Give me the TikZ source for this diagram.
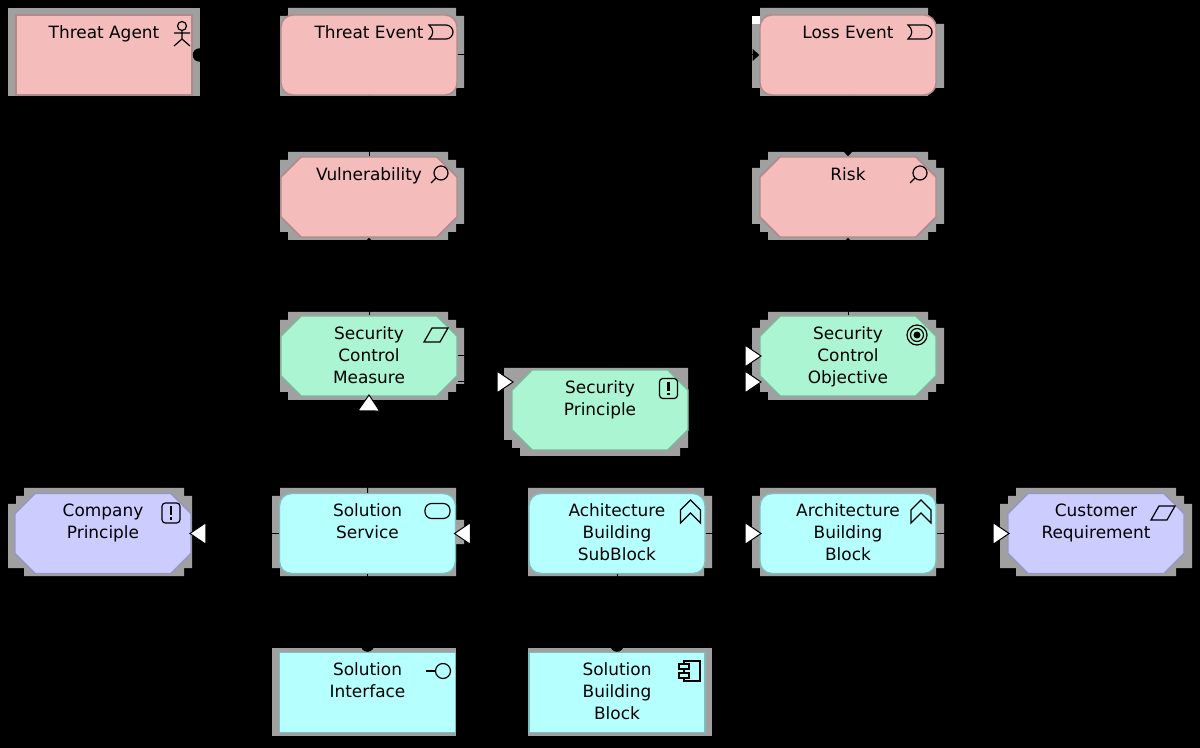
\documentclass[tikz,border=0pt]{standalone}
\usepackage{fontspec}
\setmainfont{DejaVu Sans}
\usepackage{xcolor}
\usetikzlibrary{arrows.meta, shapes.misc}
\definecolor{threatfill}{HTML}{F5BCBC}
\definecolor{threatline}{HTML}{B08A8A}
\definecolor{controlfill}{HTML}{ABF5D2}
\definecolor{controlline}{HTML}{7FB59E}
\definecolor{solutionfill}{HTML}{B5FFFF}
\definecolor{solutionline}{HTML}{82BDBD}
\definecolor{motivefill}{HTML}{CCCCFF}
\definecolor{motiveline}{HTML}{9797C6}
\definecolor{shadowgray}{HTML}{A0A0A0}
\newcommand{\toptext}[1]{\parbox[c][45pt][t]{117pt}{\vspace*{-1.75pt}\centering\strut #1}}
\tikzset{
  icon/.style={black, line width=0.9pt},
  pics/actor/.style={code={
    \draw[icon] (0,-7) circle (4.5);
    \draw[icon] (0,-2.5) -- (0,6) (-8,0) -- (8,0) (-8,13) -- (0,6) -- (8,13);
  }},
  pics/eventicon/.style={code={
    \draw[icon] (-12,-7) -- (5,-7) arc (-90:90:7) -- (-12,7) .. controls (-7,3) and (-7,-3) .. (-12,-7) -- cycle;
  }},
  pics/lens/.style={code={
    \draw[icon] (0,0) circle (7);
    \draw[icon] (-5,5) -- (-10,10);
  }},
  pics/slant/.style={code={
    \draw[icon] (-12,7) -- (-4,-7) -- (12,-7) -- (4,7) -- cycle;
  }},
  pics/mustdo/.style={code={
    \draw[icon, rounded corners=2.5pt] (-9,-10) rectangle (9,10);
    \draw[black, line width=2pt] (0,-6.5) -- (0,2.5) (0,4.5) -- (0,7);
  }},
  pics/target/.style={code={
    \draw[icon] (0,0) circle (10) (0,0) circle (6.5);
    \fill[black] (0,0) circle (3.5);
  }},
  pics/serviceicon/.style={code={
    \draw[icon, rounded corners=5pt] (-12.5,-7.5) rectangle (12.5,7.5);
  }},
  pics/lollipop/.style={code={
    \draw[icon] (-17,0) -- (-7.5,0);
    \draw[icon] (0,0) circle (7.5);
  }},
  pics/compicon/.style={code={
    \draw[icon] (-6,-10) rectangle (10,10);
    \draw[icon, fill=solutionfill] (-11,-7) rectangle (-1,-2);
    \draw[icon, fill=solutionfill] (-11,2) rectangle (-1,7);
  }},
  pics/chevrons/.style={code={
    \draw[icon] (-10,-2) -- (0,-12) -- (10,-2) -- (10,11) -- (0,1) -- (-10,11) -- cycle;
  }},
}
\begin{document}
\begin{tikzpicture}[x=0.75pt, y=-0.75pt, font=\fontsize{12.7}{16.5}\selectfont,
    box/.style={minimum width=132pt, minimum height=60pt, inner sep=0pt, line width=1.1pt, text=black},
    octa/.style={box, chamfered rectangle, chamfered rectangle xsep=7.5pt, chamfered rectangle ysep=7.5pt},
    round/.style={box, rectangle, rounded corners=9pt},
    square/.style={box, rectangle},
    threat/.style={fill=threatfill, draw=threatline},
    control/.style={fill=controlfill, draw=controlline},
    solution/.style={fill=solutionfill, draw=solutionline},
    motive/.style={fill=motivefill, draw=motiveline},
    link/.style={black, line width=0.75pt},
    whitetip/.style={link, shorten >=-2pt, -{Triangle[fill=white, length=13pt, width=17.5pt]}},
    blacktip/.style={link, -{Triangle[length=5pt, width=9pt]}},
    dottip/.style={link, {Circle[length=10pt]}-},
  ]
  \useasboundingbox (0,0) rectangle (1200,748);
  \fill[black] (0,0) rectangle (1200,748);
  % shadows
  \fill[shadowgray] (8,8) rectangle (200,96);
  \fill[shadowgray] (288,8) rectangle (456,96) (280,16) rectangle (456,96) (456,16) rectangle (464,88);
  \fill[shadowgray] (288,152) rectangle (448,240) (280,160) rectangle (456,232) (456,168) rectangle (464,224);
  \fill[shadowgray] (760,8) rectangle (928,96) (752,24) rectangle (936,88) (936,24) rectangle (944,88);
  \fill[white] (752,16) rectangle (760,24);
  \fill[shadowgray] (768,152) rectangle (928,240) (760,160) rectangle (936,232) (752,168) rectangle (944,224);
  \fill[shadowgray] (288,312) rectangle (448,400) (280,320) rectangle (456,392) (456,328) rectangle (464,384);
  \fill[shadowgray] (768,312) rectangle (928,400) (760,320) rectangle (936,392) (752,328) rectangle (944,384);
  \fill[shadowgray] (520,368) rectangle (680,456) (512,368) rectangle (688,448) (504,368) rectangle (512,440);
  \fill[shadowgray] (24,488) rectangle (184,576) (16,496) rectangle (192,568) (8,504) rectangle (16,568);
  \fill[shadowgray] (280,488) rectangle (456,576) (272,496) rectangle (280,568) (456,520) rectangle (464,544);
  \fill[shadowgray] (528,488) rectangle (704,576) (704,496) rectangle (712,568);
  \fill[shadowgray] (760,488) rectangle (936,576) (752,496) rectangle (760,568) (936,504) rectangle (944,568);
  \fill[shadowgray] (1016,488) rectangle (1176,576) (1008,496) rectangle (1184,568) (1000,504) rectangle (1192,568);
  \fill[shadowgray] (272,648) rectangle (456,736);
  \fill[shadowgray] (528,648) rectangle (712,736);
  % elements
  \node[square, threat] (agent) at (104,55) {\toptext{Threat Agent}};
  \node[round, threat] (threatevent) at (369,55) {\toptext{Threat Event}};
  \node[round, threat] (lossevent) at (848,55) {\toptext{Loss Event}};
  \node[octa, threat] (vulnerability) at (369,197) {\toptext{Vulnerability}};
  \node[octa, threat] (risk) at (848,197) {\toptext{Risk}};
  \node[octa, control] (measure) at (369,356) {\toptext{Security\\Control\\Measure}};
  \node[octa, control] (objective) at (848,356) {\toptext{Security\\Control\\Objective}};
  \node[octa, control] (principle) at (600,410) {\toptext{Security\\Principle}};
  \node[octa, motive] (company) at (103,533.5) {\toptext{Company\\Principle}};
  \node[round, solution] (service) at (367.5,533.5) {\toptext{Solution\\Service}};
  \node[round, solution] (subblock) at (617,533.5) {\toptext{Achitecture\\Building\\SubBlock}};
  \node[round, solution] (archblock) at (848,533.5) {\toptext{Architecture\\Building\\Block}};
  \node[octa, motive] (customer) at (1096,533.5) {\toptext{Customer\\Requirement}};
  \node[square, solution] (interface) at (367.5,692.5) {\toptext{Solution\\Interface}};
  \node[square, solution] (solutionblock) at (617,692.5) {\toptext{Solution\\Building\\Block}};
  % icons
  \pic at (182,33) {actor};
  \pic at (441,32) {eventicon};
  \pic at (920,32) {eventicon};
  \pic at (441,173) {lens};
  \pic at (920,173) {lens};
  \pic at (436,335) {slant};
  \pic at (917,335) {target};
  \pic at (668.5,388.5) {mustdo};
  \pic at (171,513) {mustdo};
  \pic at (437.5,511) {serviceicon};
  \pic at (690.5,512) {chevrons};
  \pic at (921,512) {chevrons};
  \pic at (1163,513) {slant};
  \pic at (443,671) {lollipop};
  \pic at (690,671) {compicon};
  % relations
  \draw[dottip] (agent.east) -- (threatevent.west);
  \draw[blacktip] (threatevent.east) -- (lossevent.west);
  \draw[blacktip] (vulnerability.north) -- (threatevent.south);
  \draw[blacktip] (lossevent.south) -- (risk.north);
  \draw[blacktip] (measure.north) -- (vulnerability.south);
  \draw[blacktip] (objective.north) -- (risk.south);
  \draw[whitetip] (measure.east) -- (objective.west);
  \draw[whitetip] ([yshift=-19.5pt]measure.east) -- ([yshift=21pt]principle.west);
  \draw[whitetip] ([yshift=21pt]principle.east) -- ([yshift=-19.5pt]objective.west);
  \draw[whitetip] (service.north) -- (measure.south);
  \draw[whitetip] (service.west) -- (company.east);
  \draw[whitetip] (subblock.west) -- (service.east);
  \draw[whitetip] (subblock.east) -- (archblock.west);
  \draw[whitetip] (archblock.east) -- (customer.west);
  \draw[link, -{Circle[length=10pt]}] (service.south) -- (interface.north);
  \draw[link, -{Circle[length=10pt]}] (subblock.south) -- (solutionblock.north);
  \draw[link] (interface.east) -- (solutionblock.west);
\end{tikzpicture}
\end{document}
